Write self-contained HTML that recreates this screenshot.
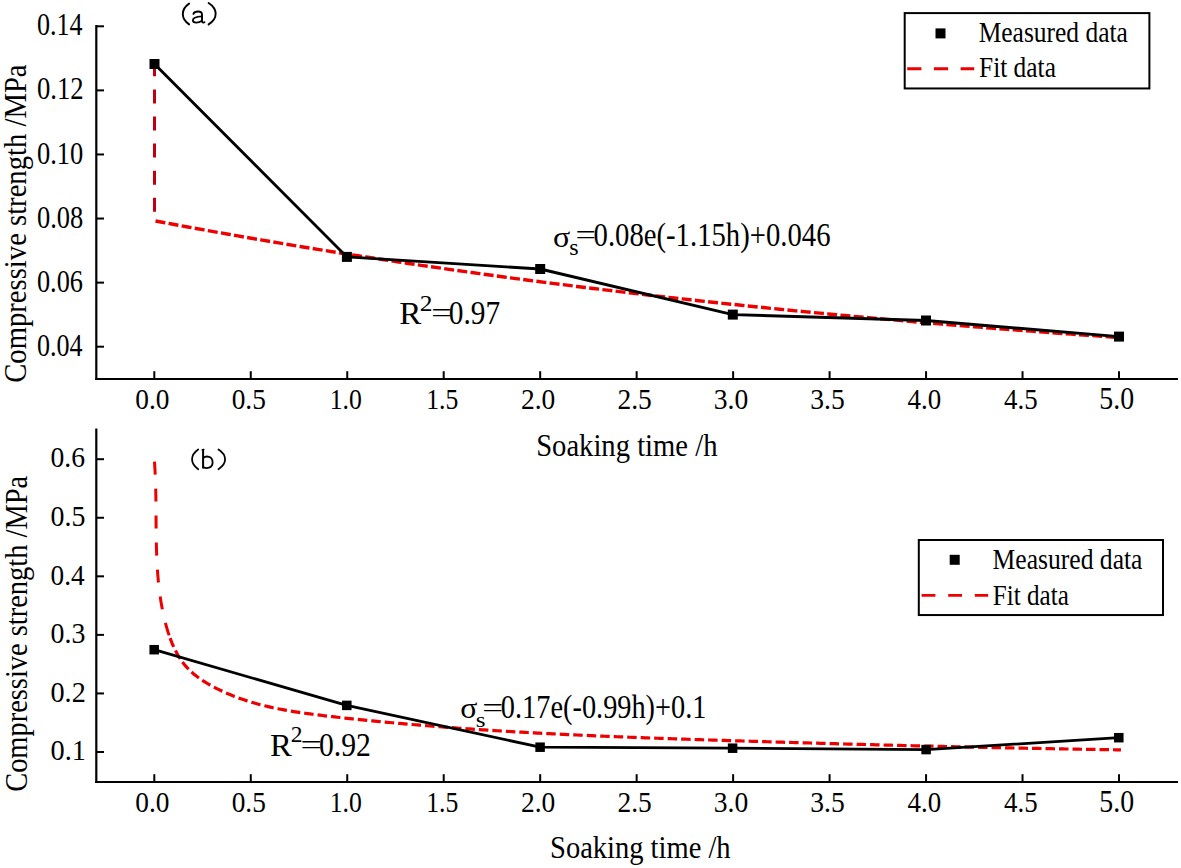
<!DOCTYPE html>
<html><head><meta charset="utf-8"><style>
html,body{margin:0;padding:0;background:#fff;}
svg{display:block;}
text{font-family:"Liberation Serif",serif;fill:#000;}
</style></head><body>
<svg width="1181" height="868" viewBox="0 0 1181 868">
<rect width="1181" height="868" fill="#fff"/>
<line x1="96.30" y1="25.00" x2="96.30" y2="380.10" stroke="#000" stroke-width="2.2" />
<line x1="95.20" y1="379.00" x2="1178.00" y2="379.00" stroke="#000" stroke-width="2.2" />
<line x1="96.30" y1="26.30" x2="104.00" y2="26.30" stroke="#000" stroke-width="2" />
<text transform="translate(36.96,35.40) scale(0.8550,1)" font-size="30.5">0.14</text>
<line x1="96.30" y1="90.38" x2="104.00" y2="90.38" stroke="#000" stroke-width="2" />
<text transform="translate(36.93,99.48) scale(0.8756,1)" font-size="30.5">0.12</text>
<line x1="96.30" y1="154.46" x2="104.00" y2="154.46" stroke="#000" stroke-width="2" />
<text transform="translate(36.94,163.56) scale(0.8678,1)" font-size="30.5">0.10</text>
<line x1="96.30" y1="218.54" x2="104.00" y2="218.54" stroke="#000" stroke-width="2" />
<text transform="translate(36.94,227.64) scale(0.8678,1)" font-size="30.5">0.08</text>
<line x1="96.30" y1="282.62" x2="104.00" y2="282.62" stroke="#000" stroke-width="2" />
<text transform="translate(36.95,291.72) scale(0.8626,1)" font-size="30.5">0.06</text>
<line x1="96.30" y1="346.70" x2="104.00" y2="346.70" stroke="#000" stroke-width="2" />
<text transform="translate(36.96,355.80) scale(0.8550,1)" font-size="30.5">0.04</text>
<line x1="154.30" y1="379.00" x2="154.30" y2="371.20" stroke="#000" stroke-width="2" />
<text transform="translate(135.21,408.60) scale(0.8967,1)" font-size="30.5">0.0</text>
<line x1="250.77" y1="379.00" x2="250.77" y2="371.20" stroke="#000" stroke-width="2" />
<text transform="translate(231.68,408.60) scale(0.8967,1)" font-size="30.5">0.5</text>
<line x1="347.24" y1="379.00" x2="347.24" y2="371.20" stroke="#000" stroke-width="2" />
<text transform="translate(329.73,408.60) scale(0.8431,1)" font-size="30.5">1.0</text>
<line x1="443.71" y1="379.00" x2="443.71" y2="371.20" stroke="#000" stroke-width="2" />
<text transform="translate(426.20,408.60) scale(0.8431,1)" font-size="30.5">1.5</text>
<line x1="540.18" y1="379.00" x2="540.18" y2="371.20" stroke="#000" stroke-width="2" />
<text transform="translate(520.94,408.60) scale(0.9006,1)" font-size="30.5">2.0</text>
<line x1="636.65" y1="379.00" x2="636.65" y2="371.20" stroke="#000" stroke-width="2" />
<text transform="translate(617.41,408.60) scale(0.9006,1)" font-size="30.5">2.5</text>
<line x1="733.12" y1="379.00" x2="733.12" y2="371.20" stroke="#000" stroke-width="2" />
<text transform="translate(713.74,408.60) scale(0.9045,1)" font-size="30.5">3.0</text>
<line x1="829.59" y1="379.00" x2="829.59" y2="371.20" stroke="#000" stroke-width="2" />
<text transform="translate(810.21,408.60) scale(0.9045,1)" font-size="30.5">3.5</text>
<line x1="926.06" y1="379.00" x2="926.06" y2="371.20" stroke="#000" stroke-width="2" />
<text transform="translate(907.52,408.60) scale(0.8817,1)" font-size="30.5">4.0</text>
<line x1="1022.53" y1="379.00" x2="1022.53" y2="371.20" stroke="#000" stroke-width="2" />
<text transform="translate(1003.99,408.60) scale(0.8817,1)" font-size="30.5">4.5</text>
<line x1="1119.00" y1="379.00" x2="1119.00" y2="371.20" stroke="#000" stroke-width="2" />
<text transform="translate(1099.33,408.60) scale(0.9123,1)" font-size="30.5">5.0</text>
<text transform="translate(536.14,456.40) scale(0.8948,1)" font-size="32">Soaking time /h</text>
<text transform="translate(25.80,382.75) rotate(-90) scale(0.8820,1)" font-size="32.5">Compressive strength /MPa</text>
<line x1="154.50" y1="62.30" x2="154.50" y2="212.00" stroke="#c00010" stroke-width="3.0" stroke-dasharray="14 13.1"/>
<polyline points="155.50,220.96 163.61,222.48 171.71,224.00 179.82,225.50 187.92,226.99 196.03,228.46 204.13,229.93 212.24,231.39 220.34,232.83 228.45,234.27 236.55,235.69 244.66,237.11 252.76,238.51 260.87,239.90 268.97,241.28 277.08,242.65 285.18,244.02 293.29,245.37 301.39,246.71 309.50,248.03 317.60,249.35 325.71,250.66 333.81,251.96 341.92,253.25 350.02,254.53 358.13,255.80 366.23,257.05 374.34,258.30 382.44,259.54 390.55,260.77 398.65,261.99 406.76,263.20 414.86,264.40 422.97,265.59 431.07,266.77 439.18,267.94 447.28,269.10 455.39,270.25 463.49,271.40 471.60,272.53 479.70,273.65 487.81,274.77 495.91,275.87 504.02,276.97 512.12,278.06 520.23,279.14 528.33,280.21 536.44,281.27 544.54,282.32 552.65,283.36 560.75,284.40 568.86,285.42 576.96,286.44 585.07,287.45 593.17,288.45 601.28,289.44 609.38,290.42 617.49,291.40 625.59,292.36 633.70,293.32 641.80,294.27 649.91,295.21 658.01,296.15 666.12,297.07 674.22,297.99 682.33,298.90 690.43,299.80 698.54,300.69 706.64,301.58 714.75,302.45 722.85,303.32 730.96,304.19 739.06,305.04 747.17,305.89 755.27,306.73 763.38,307.56 771.48,308.39 779.59,309.20 787.69,310.01 795.80,310.82 803.90,311.61 812.01,312.40 820.11,313.18 828.22,313.95 836.32,314.72 844.43,315.48 852.53,316.24 860.64,316.98 868.74,317.72 876.85,318.45 884.95,319.18 893.06,319.90 901.16,320.61 909.27,321.32 917.37,322.02 925.48,322.71 933.58,323.40 941.69,324.08 949.79,324.75 957.90,325.42 966.00,326.08 974.11,326.74 982.21,327.39 990.32,328.03 998.42,328.67 1006.53,329.30 1014.63,329.93 1022.74,330.55 1030.84,331.16 1038.95,331.77 1047.05,332.37 1055.16,332.97 1063.26,333.56 1071.37,334.15 1079.47,334.73 1087.58,335.30 1095.68,335.87 1103.79,336.44 1111.89,337.00 1120.00,337.55" fill="none" stroke="#ee0000" stroke-width="3.4" stroke-linejoin="round" stroke-dasharray="10 3.3"/>
<polyline points="154.50,64.00 346.90,256.90 540.20,269.00 732.80,314.60 926.00,320.50 1119.00,336.60" fill="none" stroke="#000" stroke-width="2.9" stroke-linejoin="round" />
<rect x="149.50" y="59.00" width="10" height="10" fill="#000"/>
<rect x="341.90" y="251.90" width="10" height="10" fill="#000"/>
<rect x="535.20" y="264.00" width="10" height="10" fill="#000"/>
<rect x="727.80" y="309.60" width="10" height="10" fill="#000"/>
<rect x="921.00" y="315.50" width="10" height="10" fill="#000"/>
<rect x="1114.00" y="331.60" width="10" height="10" fill="#000"/>
<text transform="translate(553.02,247.00) scale(1.0724,1)" font-size="29.8">σ</text>
<text transform="translate(569.33,254.80) scale(1.0819,1)" font-size="22.3">s</text>
<text transform="translate(575.59,243.80) scale(1.3634,1)" font-size="26.5">=</text>
<text transform="translate(593.55,246.00) scale(0.8567,1)" font-size="33.5">0.08e(-1.15h)+0.046</text>
<text transform="translate(399.30,323.80) scale(1.0384,1)" font-size="32">R</text>
<text transform="translate(419.75,310.80) scale(1.0625,1)" font-size="24">2</text>
<text transform="translate(431.29,322.10) scale(1.3634,1)" font-size="26.5">=</text>
<text transform="translate(448.73,324.00) scale(0.8760,1)" font-size="33.5">0.97</text>
<rect x="904.7" y="13.1" width="244.7" height="75.35" fill="none" stroke="#000" stroke-width="2"/>
<rect x="935.50" y="28.40" width="10" height="10" fill="#000"/>
<text transform="translate(978.64,42.30) scale(0.8942,1)" font-size="28.5">Measured data</text>
<text transform="translate(979.04,77.00) scale(0.8910,1)" font-size="28.5">Fit data</text>
<line x1="907.20" y1="68.70" x2="974.20" y2="68.70" stroke="#ee0000" stroke-width="2.9" stroke-dasharray="14.2 12.5"/>
<line x1="96.30" y1="428.60" x2="96.30" y2="783.10" stroke="#000" stroke-width="2.2" />
<line x1="95.20" y1="782.00" x2="1178.00" y2="782.00" stroke="#000" stroke-width="2.2" />
<line x1="96.30" y1="459.20" x2="104.00" y2="459.20" stroke="#000" stroke-width="2" />
<text transform="translate(50.49,467.40) scale(0.9209,1)" font-size="30">0.6</text>
<line x1="96.30" y1="517.76" x2="104.00" y2="517.76" stroke="#000" stroke-width="2" />
<text transform="translate(50.49,525.96) scale(0.9288,1)" font-size="30">0.5</text>
<line x1="96.30" y1="576.32" x2="104.00" y2="576.32" stroke="#000" stroke-width="2" />
<text transform="translate(50.51,584.52) scale(0.9093,1)" font-size="30">0.4</text>
<line x1="96.30" y1="634.88" x2="104.00" y2="634.88" stroke="#000" stroke-width="2" />
<text transform="translate(50.49,643.08) scale(0.9288,1)" font-size="30">0.3</text>
<line x1="96.30" y1="693.44" x2="104.00" y2="693.44" stroke="#000" stroke-width="2" />
<text transform="translate(50.47,701.64) scale(0.9408,1)" font-size="30">0.2</text>
<line x1="96.30" y1="752.00" x2="104.00" y2="752.00" stroke="#000" stroke-width="2" />
<text transform="translate(50.47,760.20) scale(0.9449,1)" font-size="30">0.1</text>
<line x1="154.30" y1="782.00" x2="154.30" y2="774.20" stroke="#000" stroke-width="2" />
<text transform="translate(135.21,811.70) scale(0.8967,1)" font-size="30.5">0.0</text>
<line x1="250.77" y1="782.00" x2="250.77" y2="774.20" stroke="#000" stroke-width="2" />
<text transform="translate(231.68,811.70) scale(0.8967,1)" font-size="30.5">0.5</text>
<line x1="347.24" y1="782.00" x2="347.24" y2="774.20" stroke="#000" stroke-width="2" />
<text transform="translate(329.73,811.70) scale(0.8431,1)" font-size="30.5">1.0</text>
<line x1="443.71" y1="782.00" x2="443.71" y2="774.20" stroke="#000" stroke-width="2" />
<text transform="translate(426.20,811.70) scale(0.8431,1)" font-size="30.5">1.5</text>
<line x1="540.18" y1="782.00" x2="540.18" y2="774.20" stroke="#000" stroke-width="2" />
<text transform="translate(520.94,811.70) scale(0.9006,1)" font-size="30.5">2.0</text>
<line x1="636.65" y1="782.00" x2="636.65" y2="774.20" stroke="#000" stroke-width="2" />
<text transform="translate(617.41,811.70) scale(0.9006,1)" font-size="30.5">2.5</text>
<line x1="733.12" y1="782.00" x2="733.12" y2="774.20" stroke="#000" stroke-width="2" />
<text transform="translate(713.74,811.70) scale(0.9045,1)" font-size="30.5">3.0</text>
<line x1="829.59" y1="782.00" x2="829.59" y2="774.20" stroke="#000" stroke-width="2" />
<text transform="translate(810.21,811.70) scale(0.9045,1)" font-size="30.5">3.5</text>
<line x1="926.06" y1="782.00" x2="926.06" y2="774.20" stroke="#000" stroke-width="2" />
<text transform="translate(907.52,811.70) scale(0.8817,1)" font-size="30.5">4.0</text>
<line x1="1022.53" y1="782.00" x2="1022.53" y2="774.20" stroke="#000" stroke-width="2" />
<text transform="translate(1003.99,811.70) scale(0.8817,1)" font-size="30.5">4.5</text>
<line x1="1119.00" y1="782.00" x2="1119.00" y2="774.20" stroke="#000" stroke-width="2" />
<text transform="translate(1099.33,811.70) scale(0.9123,1)" font-size="30.5">5.0</text>
<text transform="translate(550.05,857.80) scale(0.8913,1)" font-size="32">Soaking time /h</text>
<text transform="translate(27.20,791.84) rotate(-90) scale(0.8756,1)" font-size="32.5">Compressive strength /MPa</text>
<polyline points="154.45,461.63 154.63,464.13 154.79,466.63 154.94,469.13 155.07,471.63 155.20,474.14 155.31,476.64 155.41,479.14 155.50,481.65 155.58,484.15 155.65,486.66 155.71,489.17 155.76,491.67 155.81,494.18 155.85,496.68 155.89,499.19 155.92,501.69 155.95,504.20 155.97,506.71 155.99,509.21 156.01,511.72 156.02,514.23 156.04,516.73 156.06,519.24 156.07,521.74 156.09,524.25 156.11,526.76 156.13,529.26 156.16,531.77 156.19,534.28 156.22,536.78 156.26,539.29 156.31,541.79 156.36,544.30 156.42,546.80 156.49,549.31 156.56,551.82 156.65,554.32 156.74,556.82 156.85,559.33 156.97,561.83 157.10,564.33 157.24,566.84 157.40,569.34 157.57,571.84 157.76,574.34 157.96,576.84 158.18,579.33 158.41,581.83 158.67,584.32 158.94,586.81 159.23,589.30 159.54,591.79 159.87,594.27 160.22,596.76 160.59,599.23 160.99,601.71 161.41,604.18 161.85,606.65 162.32,609.11 162.81,611.57 163.33,614.02 163.87,616.47 164.44,618.91 165.04,621.34 165.66,623.77 166.32,626.19 167.00,628.60 167.72,631.00 168.48,633.39 169.27,635.77 170.11,638.13" fill="none" stroke="#ee0000" stroke-width="3.0" stroke-linejoin="round" stroke-dasharray="13 14"/>
<polyline points="170.11,638.13 170.99,640.47 171.91,642.80 172.89,645.11 173.92,647.40 175.01,649.65 176.15,651.89 177.35,654.08 178.62,656.25 179.95,658.37 181.35,660.45 182.82,662.48 184.36,664.46 185.97,666.38 187.65,668.24 189.40,670.03 191.22,671.76 193.09,673.42 195.02,675.02 197.00,676.56 199.01,678.05 201.07,679.48 203.16,680.87 205.28,682.21 207.42,683.50 209.59,684.75 211.78,685.97 213.99,687.16 216.22,688.31 218.46,689.43 220.72,690.52 222.99,691.58 225.27,692.61 227.57,693.61 229.88,694.59 232.20,695.53 234.53,696.45 236.88,697.34 239.23,698.20 241.59,699.03 243.97,699.84 246.35,700.62 248.74,701.38 251.13,702.11 253.54,702.82 255.95,703.50 258.36,704.17 260.79,704.81 263.22,705.42 265.65,706.02 268.09,706.60 270.53,707.16 272.98,707.70 275.43,708.22 277.89,708.72 280.35,709.20 282.81,709.67 285.27,710.13 287.74,710.57 290.21,710.99 292.68,711.40 295.16,711.80 297.63,712.19 300.11,712.56 302.59,712.92 305.07,713.28 307.56,713.62 310.04,713.95 312.52,714.28 315.01,714.60 317.50,714.91 319.99,715.21 322.47,715.51 324.96,715.81 327.45,716.09 329.94,716.38 332.43,716.66 334.92,716.94 337.41,717.22 339.91,717.49 342.40,717.77 344.89,718.04 347.38,718.30 349.87,718.57 352.37,718.83 354.86,719.10 357.35,719.36 359.84,719.61 362.34,719.87 364.83,720.12 367.32,720.37 369.82,720.62 372.31,720.86 374.81,721.11 377.30,721.35 379.80,721.59 382.29,721.83 384.79,722.06 387.28,722.30 389.78,722.53 392.27,722.76 394.77,722.99 397.27,723.21 399.76,723.44 402.26,723.66 404.75,723.88 407.25,724.09 409.75,724.31 412.25,724.52 414.74,724.74 417.24,724.95 419.74,725.15 422.24,725.36 424.73,725.56 427.23,725.77 429.73,725.97 432.23,726.17 434.73,726.36 437.23,726.56 439.72,726.75 442.22,726.94 444.72,727.13 447.22,727.32 449.72,727.51 452.22,727.69 454.72,727.88 457.22,728.06 459.72,728.24 462.22,728.41 464.72,728.59 467.22,728.76 469.72,728.94 472.22,729.11 474.72,729.28 477.22,729.45 479.72,729.61 482.22,729.78 484.72,729.94 487.23,730.10 489.73,730.26 492.23,730.42 494.73,730.58 497.23,730.74 499.73,730.89 502.23,731.04 504.74,731.20 507.24,731.35 509.74,731.49 512.24,731.64 514.74,731.79 517.25,731.93 519.75,732.07 522.25,732.22 524.75,732.36 527.25,732.50 529.76,732.63 532.26,732.77 534.76,732.91 537.26,733.04 539.77,733.17 542.27,733.30 544.77,733.43 547.28,733.56 549.78,733.69 552.28,733.82 554.79,733.94 557.29,734.07 559.79,734.19 562.30,734.31 564.80,734.43 567.30,734.55 569.81,734.67 572.31,734.79 574.81,734.91 577.32,735.02 579.82,735.14 582.32,735.25 584.83,735.36 587.33,735.47 589.84,735.58 592.34,735.69 594.84,735.80 597.35,735.91 599.85,736.02 602.36,736.12 604.86,736.23 607.36,736.33 609.87,736.43 612.37,736.54 614.88,736.64 617.38,736.74 619.88,736.84 622.39,736.94 624.89,737.03 627.40,737.13 629.90,737.23 632.41,737.32 634.91,737.42 637.42,737.51 639.92,737.61 642.42,737.70 644.93,737.79 647.43,737.88 649.94,737.98 652.44,738.07 654.95,738.16 657.45,738.25 659.96,738.33 662.46,738.42 664.97,738.51 667.47,738.60 669.98,738.68 672.48,738.77 674.99,738.85 677.49,738.94 680.00,739.02 682.50,739.11 685.01,739.19 687.51,739.27 690.02,739.36 692.52,739.44 695.03,739.52 697.53,739.60 700.04,739.68 702.54,739.76 705.05,739.84 707.55,739.92 710.06,740.00 712.56,740.08 715.07,740.16 717.57,740.24 720.08,740.32 722.58,740.40 725.09,740.47 727.59,740.55 730.10,740.63 732.60,740.71 735.11,740.78 737.61,740.86 740.12,740.94 742.62,741.01 745.13,741.09 747.63,741.17 750.14,741.24 752.64,741.32 755.15,741.39 757.65,741.47 760.16,741.55 762.66,741.62 765.17,741.70 767.67,741.77 770.18,741.85 772.68,741.92 775.19,741.99 777.69,742.07 780.20,742.14 782.70,742.21 785.21,742.29 787.71,742.36 790.22,742.43 792.72,742.51 795.23,742.58 797.74,742.65 800.24,742.72 802.75,742.80 805.25,742.87 807.76,742.94 810.26,743.01 812.77,743.08 815.27,743.15 817.78,743.22 820.28,743.29 822.79,743.36 825.29,743.43 827.80,743.50 830.30,743.57 832.81,743.64 835.31,743.71 837.82,743.78 840.33,743.85 842.83,743.92 845.34,743.98 847.84,744.05 850.35,744.12 852.85,744.19 855.36,744.25 857.86,744.32 860.37,744.39 862.87,744.46 865.38,744.52 867.88,744.59 870.39,744.65 872.90,744.72 875.40,744.78 877.91,744.85 880.41,744.91 882.92,744.98 885.42,745.04 887.93,745.11 890.43,745.17 892.94,745.24 895.44,745.30 897.95,745.36 900.46,745.42 902.96,745.49 905.47,745.55 907.97,745.61 910.48,745.67 912.98,745.74 915.49,745.80 917.99,745.86 920.50,745.92 923.01,745.98 925.51,746.04 928.02,746.10 930.52,746.16 933.03,746.22 935.53,746.28 938.04,746.34 940.54,746.40 943.05,746.46 945.56,746.51 948.06,746.57 950.57,746.63 953.07,746.69 955.58,746.74 958.08,746.80 960.59,746.86 963.09,746.91 965.60,746.97 968.11,747.03 970.61,747.08 973.12,747.14 975.62,747.19 978.13,747.25 980.63,747.30 983.14,747.35 985.65,747.41 988.15,747.46 990.66,747.52 993.16,747.57 995.67,747.62 998.17,747.67 1000.68,747.73 1003.19,747.78 1005.69,747.83 1008.20,747.88 1010.70,747.93 1013.21,747.98 1015.72,748.03 1018.22,748.08 1020.73,748.13 1023.23,748.18 1025.74,748.23 1028.24,748.28 1030.75,748.33 1033.26,748.38 1035.76,748.42 1038.27,748.47 1040.77,748.52 1043.28,748.57 1045.78,748.61 1048.29,748.66 1050.80,748.71 1053.30,748.75 1055.81,748.80 1058.31,748.84 1060.82,748.89 1063.33,748.93 1065.83,748.98 1068.34,749.02 1070.84,749.06 1073.35,749.11 1075.86,749.15 1078.36,749.19 1080.87,749.23 1083.37,749.28 1085.88,749.32 1088.39,749.36 1090.89,749.40 1093.40,749.44 1095.90,749.48 1098.41,749.52 1100.92,749.56 1103.42,749.60 1105.93,749.64 1108.43,749.68 1110.94,749.72 1113.44,749.75 1115.95,749.79 1118.46,749.83 1120.96,749.87" fill="none" stroke="#ee0000" stroke-width="3.2" stroke-linejoin="round" stroke-dasharray="9.5 4"/>
<polyline points="154.20,649.70 346.80,705.40 540.10,747.20 732.60,748.20 926.10,749.60 1118.80,737.70" fill="none" stroke="#000" stroke-width="2.8" stroke-linejoin="round" />
<rect x="149.45" y="644.95" width="9.5" height="9.5" fill="#000"/>
<rect x="342.05" y="700.65" width="9.5" height="9.5" fill="#000"/>
<rect x="535.35" y="742.45" width="9.5" height="9.5" fill="#000"/>
<rect x="727.85" y="743.45" width="9.5" height="9.5" fill="#000"/>
<rect x="921.35" y="744.85" width="9.5" height="9.5" fill="#000"/>
<rect x="1114.05" y="732.95" width="9.5" height="9.5" fill="#000"/>
<text transform="translate(460.13,718.30) scale(1.1141,1)" font-size="28.5">σ</text>
<text transform="translate(475.80,726.80) scale(1.2174,1)" font-size="20.6">s</text>
<text transform="translate(482.34,716.70) scale(1.3287,1)" font-size="28">=</text>
<text transform="translate(500.87,717.90) scale(0.8585,1)" font-size="33">0.17e(-0.99h)+0.1</text>
<text transform="translate(270.12,755.60) scale(1.0236,1)" font-size="32">R</text>
<text transform="translate(290.84,742.10) scale(1.0217,1)" font-size="23">2</text>
<text transform="translate(300.41,753.90) scale(1.4283,1)" font-size="26.5">=</text>
<text transform="translate(318.91,755.90) scale(0.8883,1)" font-size="33.4">0.92</text>
<rect x="918.8" y="540.0" width="244.2" height="75.05" fill="none" stroke="#000" stroke-width="2"/>
<rect x="949.70" y="554.80" width="10" height="10" fill="#000"/>
<text transform="translate(992.53,568.60) scale(0.8985,1)" font-size="28.5">Measured data</text>
<text transform="translate(992.85,605.30) scale(0.8816,1)" font-size="28.5">Fit data</text>
<line x1="921.60" y1="595.30" x2="988.20" y2="595.30" stroke="#ee0000" stroke-width="2.8" stroke-dasharray="13.8 12.8"/>
<path d="M189.1,3.6 C180.7,9.4 180.7,18.6 189.1,24.4" fill="none" stroke="#000" stroke-width="1.9" stroke-linecap="round" stroke-linejoin="round"/>
<path d="M208.6,3.0 C218.0,9.0 218.0,18.6 208.6,24.4" fill="none" stroke="#000" stroke-width="1.9" stroke-linecap="round" stroke-linejoin="round"/>
<path d="M193.4,13.8 C194.6,11.0 201.9,10.3 202.0,14.4 L202.0,21.0 C202.0,22.4 203.3,23.0 204.5,22.3" fill="none" stroke="#000" stroke-width="1.9" stroke-linecap="round" stroke-linejoin="round"/>
<path d="M202.0,16.4 C197.0,16.6 192.9,17.6 192.9,20.3 C192.9,23.4 198.6,23.3 202.0,20.6" fill="none" stroke="#000" stroke-width="1.8" stroke-linecap="round" stroke-linejoin="round"/>
<path d="M198.2,449.5 C190.0,455.2 190.0,463.5 198.2,469.2" fill="none" stroke="#000" stroke-width="1.8" stroke-linecap="round" stroke-linejoin="round"/>
<path d="M218.5,449.5 C227.3,455.2 227.3,463.5 218.5,469.2" fill="none" stroke="#000" stroke-width="1.8" stroke-linecap="round" stroke-linejoin="round"/>
<path d="M203.1,449.8 L203.1,467.8" fill="none" stroke="#000" stroke-width="2.0" stroke-linecap="round" stroke-linejoin="round"/>
<path d="M202.0,449.8 L204.0,449.4" fill="none" stroke="#000" stroke-width="1.2" stroke-linecap="round" stroke-linejoin="round"/>
<path d="M203.3,457.8 C206.0,455.6 212.6,455.8 212.6,462.2 C212.6,468.6 206.0,468.8 203.3,467.0" fill="none" stroke="#000" stroke-width="1.8" stroke-linecap="round" stroke-linejoin="round"/>
</svg>
</body></html>
